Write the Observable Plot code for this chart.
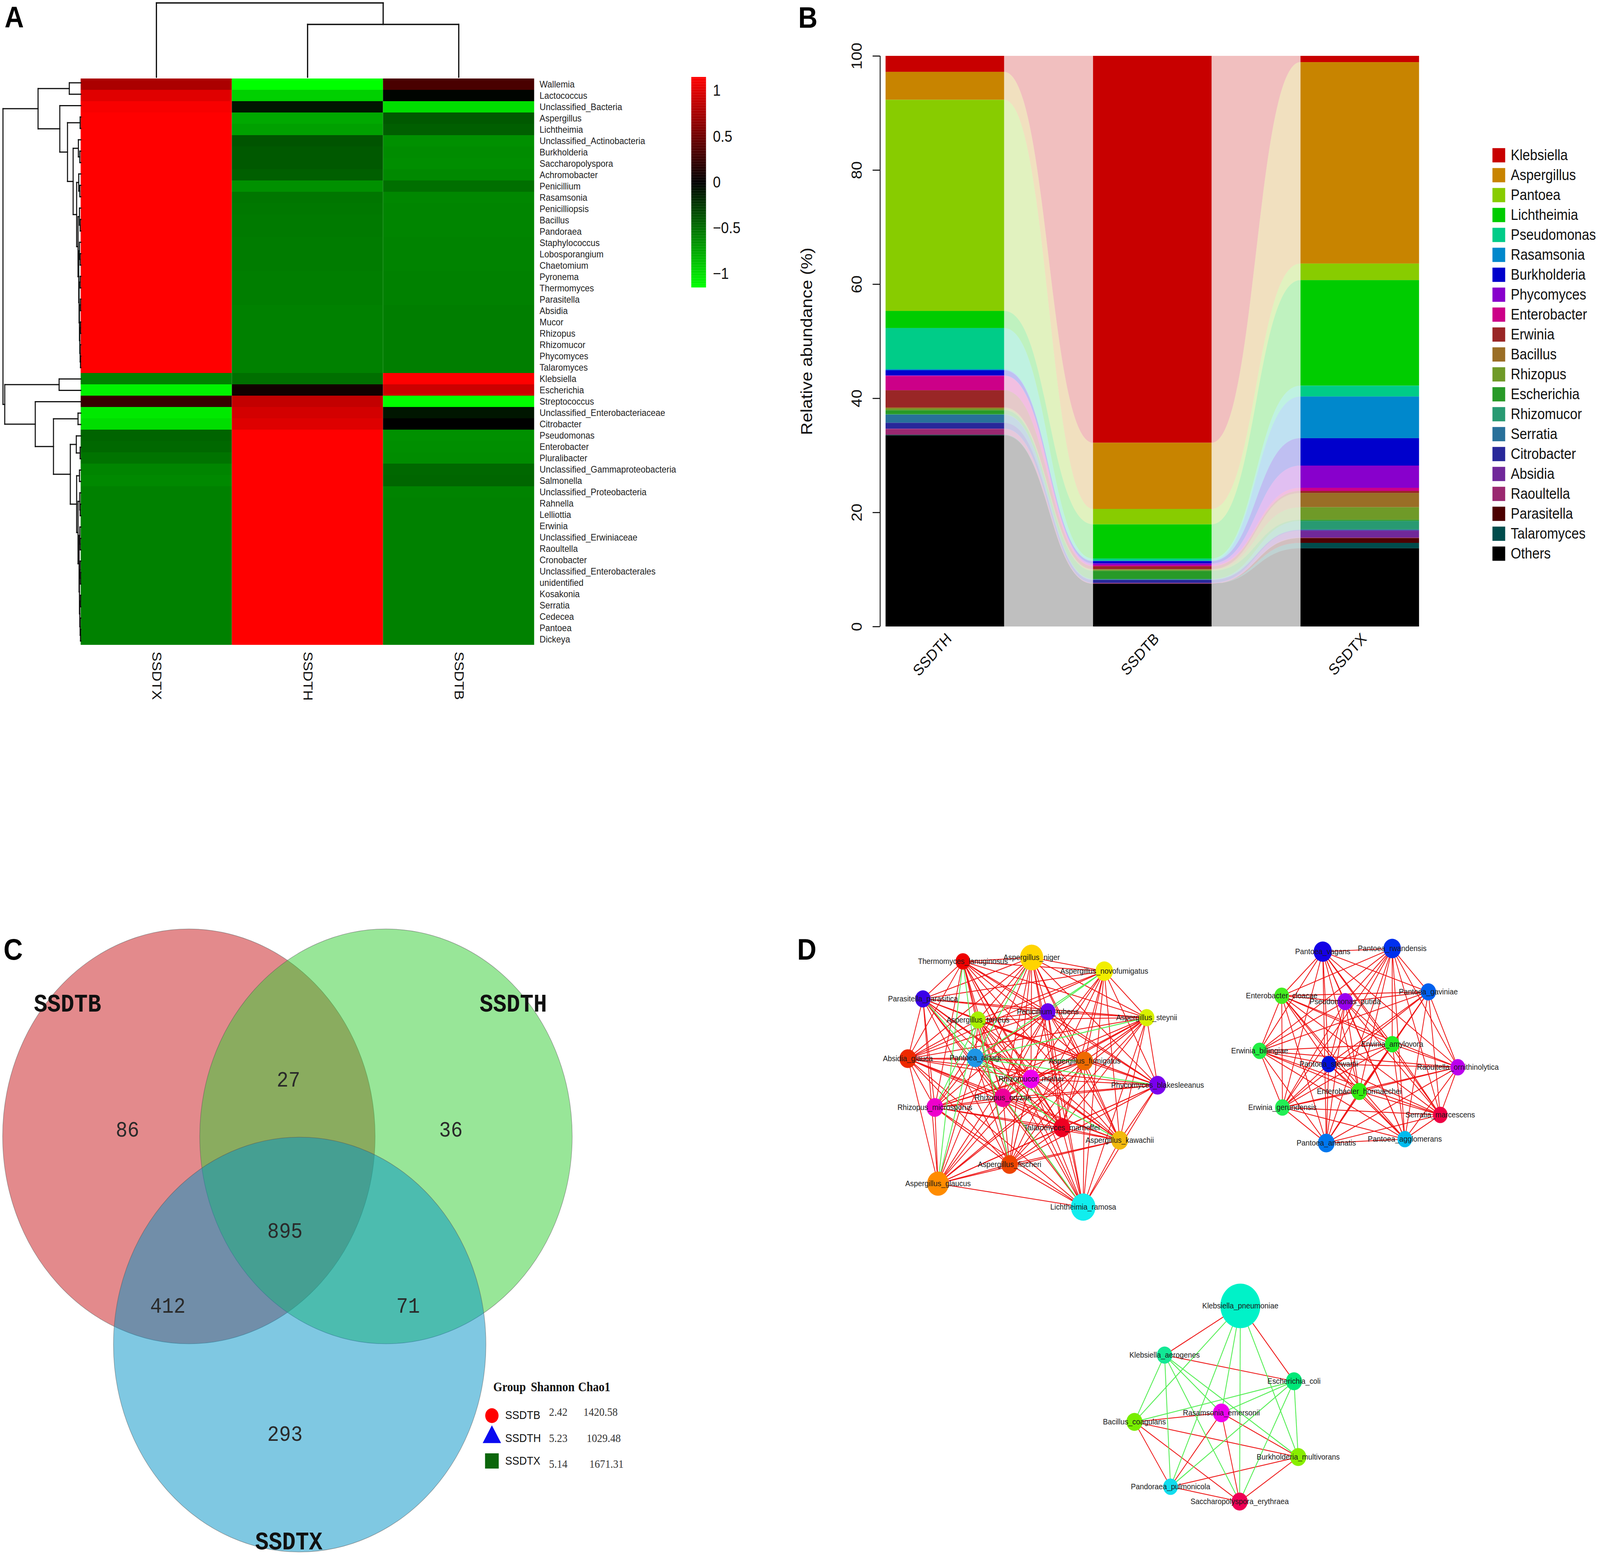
<!DOCTYPE html>
<html><head><meta charset="utf-8">
<script src="https://cdn.jsdelivr.net/npm/d3@7"></script>
<script src="https://cdn.jsdelivr.net/npm/@observablehq/plot@0.6"></script>
<style>
html,body{margin:0;padding:0;background:#fff;overflow:hidden;}
#wrap{position:relative;overflow:hidden;width:4562px;height:3989px;}
#page{position:absolute;left:0;top:0;width:4562px;height:3989px;overflow:hidden;background:#fff;transform-origin:0 0;}
.layer{position:absolute;}
.layer svg{overflow:visible;}
.plabel{position:absolute;font-family:"Liberation Sans",Arial,sans-serif;font-weight:bold;font-size:76px;line-height:1;color:#000;}
</style></head><body><div id="wrap"><div id="page"></div></div>
<script>
// ---------------- DATA ----------------
// Panel A heatmap (row z-scores)
const heatSamples = ["SSDTX","SSDTH","SSDTB"];
const genera = ["Wallemia","Lactococcus","Unclassified_Bacteria","Aspergillus","Lichtheimia","Unclassified_Actinobacteria","Burkholderia","Saccharopolyspora","Achromobacter","Penicillium","Rasamsonia","Penicilliopsis","Bacillus","Pandoraea","Staphylococcus","Lobosporangium","Chaetomium","Pyronema","Thermomyces","Parasitella","Absidia","Mucor","Rhizopus","Rhizomucor","Phycomyces","Talaromyces","Klebsiella","Escherichia","Streptococcus","Unclassified_Enterobacteriaceae","Citrobacter","Pseudomonas","Enterobacter","Pluralibacter","Unclassified_Gammaproteobacteria","Salmonella","Unclassified_Proteobacteria","Rahnella","Lelliottia","Erwinia","Unclassified_Erwiniaceae","Raoultella","Cronobacter","Unclassified_Enterobacterales","unidentified","Kosakonia","Serratia","Cedecea","Pantoea","Dickeya"];
const zSSDTX = [0.77,1.01,1.12,1.15,1.15,1.15,1.15,1.15,1.15,1.15,
 1.15,1.15,1.15,1.15,1.15,1.15,1.15,1.15,1.15,1.15,
 1.15,1.15,1.15,1.15,1.15,1.15,-0.58,-1.10,0.25,-1.05,
 -1.00,-0.45,-0.47,-0.52,-0.60,-0.62,-0.58,-0.58,-0.58,-0.58,
 -0.58,-0.58,-0.58,-0.58,-0.58,-0.58,-0.58,-0.58,-0.58,-0.58];
const zSSDTH = [-1.15,-0.94,-0.10,-0.76,-0.72,-0.38,-0.40,-0.40,-0.43,-0.65,
 -0.53,-0.54,-0.55,-0.55,-0.56,-0.56,-0.56,-0.57,-0.57,-0.57,
 -0.58,-0.58,-0.58,-0.58,-0.58,-0.58,-0.50,0.08,0.88,0.95,
 1.00,1.15,1.15,1.15,1.15,1.15,1.15,1.15,1.15,1.15,
 1.15,1.15,1.15,1.15,1.15,1.15,1.15,1.15,1.15,1.15];
const zSSDTB = [0.33,-0.02,-1.00,-0.40,-0.43,-0.65,-0.63,-0.64,-0.62,-0.50,
 -0.61,-0.60,-0.60,-0.60,-0.59,-0.59,-0.59,-0.58,-0.58,-0.58,
 -0.57,-0.57,-0.57,-0.57,-0.57,-0.57,1.15,0.92,-1.15,-0.10,
 0.00,-0.65,-0.64,-0.63,-0.47,-0.46,-0.59,-0.58,-0.58,-0.58,
 -0.58,-0.58,-0.58,-0.58,-0.58,-0.58,-0.58,-0.58,-0.58,-0.58];
const colorbarTicks = [1, 0.5, 0, -0.5, -1];
// row dendrogram (leaves = row indices, third item = merge height)
const t11_25 = [[11,[12,13,2],4], [[14,[15,16,2],4], [[17,18,2], [[19,20,1], [[21,22,1], [23,[24,25,1],2], 3], 4], 5], 6], 8];
const tTop = [[0,1,33], [2, [[3,4,2], [[5,[6,7,3],7], [[8,[9,10,3],6], t11_25, 12], 22], 38], 60], 122];
const t36_49 = [[36,[37,38,2],3], [[39,[40,41,2],3], [[42,[43,44,1],2], [[45,46,1],[47,[48,49,1],2],3], 4], 5], 8];
const tBot = [[26,27,62], [28, [[29,30,8], [[31,[32,33,2],13], [[34,35,4], t36_49, 12], 30], 78], 130], 217];
const rowTree = [tTop, tBot, 222];
const colTree = [0, [1, 2, 135], 190];

// Panel B relative abundance
const samplesB = ["SSDTH","SSDTB","SSDTX"];
const taxa = ["Klebsiella","Aspergillus","Pantoea","Lichtheimia","Pseudomonas","Rasamsonia","Burkholderia","Phycomyces","Enterobacter","Erwinia","Bacillus","Rhizopus","Escherichia","Rhizomucor","Serratia","Citrobacter","Absidia","Raoultella","Parasitella","Talaromyces","Others"];
const taxaColors = ["#C80000","#C88400","#88CC00","#00CC00","#00CC88","#0088CC","#0000CC","#8800CC","#CC0088","#992626","#9A6E26","#6F9A28","#289A28","#289A72","#28709A","#28289A","#70289A","#9A2870","#4C0000","#004C4C","#000000"];
const abundSSDTH = [2.8,4.9,37.0,3.0,7.2,0.2,0.9,0.1,2.5,3.0,0.2,0.3,0.7,0.1,1.4,1.0,0.1,1.0,0.0,0.1,33.5];
const abundSSDTB = [67.8,11.6,2.7,6.0,0.35,0.1,0.4,0.3,0.2,0.5,0.1,0.2,1.4,0.1,0.1,0.5,0.05,0.1,0.0,0.0,7.5];
const abundSSDTX = [1.1,35.3,2.9,18.5,1.9,7.3,4.8,3.9,0.55,0.35,2.5,2.2,0.2,1.5,0.1,0.1,1.2,0.1,0.85,0.95,13.7];
const yTicksB = [0,20,40,60,80,100];

// Panel C Venn
const vennSets = ["SSDTB","SSDTH","SSDTX"];
const vennColors = ["#C71519","#31CD31","#0091C5"];
const vennRegions = ["SSDTB only","SSDTB∩SSDTH","SSDTH only","all","SSDTB∩SSDTX","SSDTH∩SSDTX","SSDTX only"];
const vennCounts = [86,27,36,895,412,71,293];
const alphaGroups = ["SSDTB","SSDTH","SSDTX"];
const alphaShannon = ["2.42","5.23","5.14"];
const alphaChao1 = ["1420.58","1029.48","1671.31"];
const alphaSymbols = ["circle","triangle","square"];
const alphaColors = ["#FF0000","#0A0AF0","#0B660B"];

// Panel D networks
const net1Names = ["Thermomyces_lanuginosus","Aspergillus_niger","Aspergillus_novofumigatus","Parasitella_parasitica","Penicillium_rubens","Aspergillus_steynii","Aspergillus_terreus","Absidia_glauca","Pantoea_alhagi","Aspergillus_fumigatus","Rhizomucor_miehei","Phycomyces_blakesleeanus","Rhizopus_oryzae","Rhizopus_microsporus","Talaromyces_marneffei","Aspergillus_kawachii","Aspergillus_fischeri","Aspergillus_glaucus","Lichtheimia_ramosa"];
const net1Colors = ["#EE0000","#FFD400","#F2EE00","#3A00E8","#6A00EE","#D8F000","#A8F000","#EE2A00","#1E96E6","#EE6A00","#EE00EE","#7A00EE","#EE0099","#EE00CC","#EE0022","#F2B90C","#EE4400","#FF8C00","#11EEEE"];
const net1Red = [[1,2,3,4,5,6,7,9,10,11,12,13,14,15,16,18],[2,3,4,5,6,7,9,10,11,12,13,14,15,16,17,18],[3,5,6,7,9,10,11,12,14,15,16,18],[4,5,6,7,9,10,11,12,13,14,15,16,17,18],[5,6,7,8,9,10,11,12,13,14,15,16,17,18],[6,7,9,10,11,12,13,14,15,16,17,18],[7,8,9,10,11,12,14,15,18],[8,9,10,11,12,13,14,15,16,17,18],[10,12,13,16,17],[10,11,12,13,14,15,16,17,18],[11,12,13,14,15,16,17,18],[12,13,14,15,16,17,18],[13,14,15,16,17,18],[14,15,16,17,18],[15,16,17,18],[16,17,18],[17,18],[18],[]];
const net1Green = [[0,8],[0,17],[1,8],[2,4],[2,8],[3,8],[5,8],[6,13],[6,16],[6,17],[8,9],[8,11],[8,14],[8,15],[8,18]];
const net2Names = ["Pantoea_vagans","Pantoea_rwandensis","Enterobacter_cloacae","Pseudomonas_putida","Pantoea_gaviniae","Erwinia_billingiae","Erwinia_amylovora","Pantoea_stewartii","Raoultella_ornithinolytica","Enterobacter_hormaechei","Erwinia_gerundensis","Serratia_marcescens","Pantoea_ananatis","Pantoea_agglomerans"];
const net2Colors = ["#1500E6","#0030EE","#44EE22","#9900EE","#0060EE","#22EE44","#22EE22","#0010DD","#BB00EE","#33EE11","#22EE55","#EE0044","#0077EE","#00BBEE"];
const net2Red = [[1,2,3,4,5,6,7,8,9,10,11,12,13],[2,3,4,5,6,7,8,9,10,11,12,13],[3,4,5,6,7,8,9,10,11,12,13],[4,5,6,7,9,10,11,12,13],[5,6,7,8,9,10,11,12,13],[6,7,8,9,10,11,12,13],[7,8,9,10,11,12,13],[8,9,10,11,12,13],[9,10,11,12,13],[10,11,12,13],[11,12,13],[12,13],[13],[]];
const net3Names = ["Klebsiella_pneumoniae","Klebsiella_aerogenes","Escherichia_coli","Rasamsonia_emersonii","Bacillus_coagulans","Burkholderia_multivorans","Pandoraea_pulmonicola","Saccharopolyspora_erythraea"];
const net3Colors = ["#00F2C8","#12E895","#00E878","#EE00EE","#77EE00","#88EE00","#11DDEE","#EE0055"];
const net3Red = [[0,1],[0,2],[1,2],[3,4],[4,5],[4,6],[4,7],[3,6],[3,7],[3,5],[5,6],[5,7],[6,7]];
const net3Green = [[0,4],[0,6],[0,3],[0,7],[0,5],[1,4],[1,6],[1,7],[1,5],[1,3],[2,4],[2,3],[2,6],[2,7],[2,5]];

// ---------------- LAYOUT (page pixel positions, not data) ----------------
const vennLayout = {cx:[538,1100,854], cy:[2909,2909,3442], r:531,
  countX:[363,822,1285,812,478,1163,812], countY:[2892,2764,2892,3151,3343,3343,3671],
  labelX:[96,1367,727], labelY:[2569,2569,3946]};
const net1Layout = {x:[2745,2941,3148,2631,2987,3269,2788,2588,2780,3092,2939,3300,2859,2665,3027,3192,2878,2674,3088],
  y:[2461,2451,2486,2557,2590,2605,2611,2710,2708,2716,2762,2778,2810,2835,2887,2919,2981,3030,3090],
  r:[21,33,25,22,22,22,22,24,24,24,24,24,24,24,24,24,24,31,35]};
const net2Layout = {x:[3771,3969,3654,3835,4072,3591,3969,3788,4156,3875,3656,4106,3781,4005],
  y:[2436,2428,2549,2564,2539,2690,2673,2724,2732,2794,2835,2854,2926,2916],
  r:[26,25,21,22,22,21,21,21,21,22,21,21,24,21]};
const net3Layout = {x:[3536,3320,3689,3482,3234,3701,3337,3534],
  y:[3343,3469,3536,3617,3640,3730,3806,3844],
  r:[57,22,23,24,23,23,21,23]};

// ---------------- HELPERS ----------------
const page = document.getElementById("page");
const wrap = document.getElementById("wrap");
const FONT = "Liberation Sans, Arial, sans-serif";
const baseStyle = {background: "transparent", overflow: "visible", fontFamily: FONT};
function place(el, left, top) {
  const d = document.createElement("div");
  d.className = "layer"; d.style.left = left + "px"; d.style.top = top + "px";
  d.appendChild(el); page.appendChild(d);
}
function label(t, left, top) {
  const d = document.createElement("div");
  d.className = "plabel"; d.textContent = t; d.style.left = left + "px"; d.style.top = top + "px";
  page.appendChild(d);
}
function dendroLinks(tree, leafPos) {
  const out = [];
  (function walk(n) {
    if (typeof n === "number") return {p: leafPos(n), h: 0};
    const A = walk(n[0]), B = walk(n[1]), h = n[2];
    out.push({p1: A.p, h1: A.h, p2: A.p, h2: h});
    out.push({p1: B.p, h1: B.h, p2: B.p, h2: h});
    out.push({p1: A.p, h1: h, p2: B.p, h2: h});
    return {p: (A.p + B.p) / 2, h};
  })(tree);
  return out;
}
const heatColor = {type: "linear", domain: [-1.15, 1.15],
  interpolate: d3.piecewise(d3.interpolateRgb, ["#00FF00", "#000000", "#FF0000"])};

// ---------------- PANEL A ----------------
const zCols = [zSSDTX, zSSDTH, zSSDTB];
const heatCells = genera.flatMap((g, r) => heatSamples.map((s, c) => ({genus: g, sample: s, value: zCols[c][r]})));
place(Plot.plot({
  width: 2250, height: 1900, marginLeft: 230, marginRight: 727, marginTop: 197, marginBottom: 245,
  style: baseStyle,
  x: {domain: heatSamples, padding: 0},
  y: {domain: genera, padding: 0},
  color: heatColor,
  marks: [
    Plot.cell(heatCells, {x: "sample", y: "genus", fill: "value", inset: 0}),
    Plot.axisY({anchor: "right", tickSize: 0, tickPadding: 15, fontSize: 24.5, fill: "#222", label: null}),
    Plot.axisX({anchor: "bottom", tickSize: 0, tickPadding: 13, tickRotate: 90, fontSize: 37, fill: "#111", label: null})
  ]
}), 0, 0);

const rowLinks = dendroLinks(rowTree, i => i + 0.5);
place(Plot.plot({
  width: 240, height: 1900, margin: 0, style: baseStyle,
  x: {domain: [0, 222], range: [230, 8], axis: null},
  y: {domain: [0, genera.length], range: [197, 1655], axis: null},
  marks: [Plot.link(rowLinks, {x1: "h1", y1: "p1", x2: "h2", y2: "p2", stroke: "#111", strokeWidth: 3, strokeLinecap: "square"})]
}), 0, 0);

const colLinks = dendroLinks(colTree, i => i + 0.5);
place(Plot.plot({
  width: 1600, height: 210, margin: 0, style: baseStyle,
  x: {domain: [0, heatSamples.length], range: [230, 1523], axis: null},
  y: {domain: [0, 190], range: [197, 7], axis: null},
  marks: [Plot.link(colLinks, {x1: "p1", y1: "h1", x2: "p2", y2: "h2", stroke: "#111", strokeWidth: 3.5, strokeLinecap: "square"})]
}), 0, 0);

const cbStops = d3.range(-1.15, 1.15, 0.01);
place(Plot.plot({
  width: 200, height: 650, margin: 0, style: baseStyle,
  x: {domain: [0, 1], range: [21, 63], axis: null},
  y: {domain: [-1.15, 1.15], range: [586, 47], axis: null},
  color: heatColor,
  marks: [
    Plot.rect(cbStops, {x1: 0, x2: 1, y1: d => d, y2: d => Math.min(1.15, d + 0.011), fill: d => d + 0.005}),
    Plot.text(colorbarTicks, {x: 1, y: d => d, text: d => d < 0 ? "\u2212" + Math.abs(d) : String(d), dx: 19, textAnchor: "start", fontSize: 40, fill: "#111"})
  ]
}), 1950, 150);

// ---------------- PANEL B ----------------
const abundBy = [abundSSDTH, abundSSDTB, abundSSDTX];
const stacks = abundBy.map(vals => {
  let acc = 0; const out = {};
  for (let k = taxa.length - 1; k >= 0; k--) { out[taxa[k]] = [acc, acc + vals[k]]; acc += vals[k]; }
  return out;
});
const barHalf = 2 / 7;           // bar width relative to bar spacing
const axisOff = barHalf + 0.027; // y axis sits just left of first bar
const barSegs = samplesB.flatMap((s, i) => taxa.map(t => ({i, taxon: t, y1: stacks[i][t][0], y2: stacks[i][t][1]})));
const bands = [];
for (let g = 0; g < samplesB.length - 1; g++) {
  for (const t of taxa) {
    const key = t + "_" + g;
    bands.push({key, taxon: t, x: g + barHalf, y1: stacks[g][t][0], y2: stacks[g][t][1]});
    bands.push({key, taxon: t, x: g + 1 - barHalf, y1: stacks[g + 1][t][0], y2: stacks[g + 1][t][1]});
  }
}
place(Plot.plot({
  width: 1950, height: 1800, marginLeft: 259, marginRight: 27.2, marginTop: 143, marginBottom: 196,
  style: baseStyle,
  x: {domain: [-axisOff, 2.5], axis: null},
  y: {domain: [0, 100]},
  color: {domain: taxa, range: taxaColors},
  marks: [
    Plot.areaY(bands, {x: "x", y1: "y1", y2: "y2", z: "key", fill: "taxon", fillOpacity: 0.25, curve: "bump-x"}),
    Plot.rect(barSegs, {x1: d => d.i - barHalf, x2: d => d.i + barHalf, y1: "y1", y2: "y2", fill: "taxon"}),
    Plot.ruleX([-axisOff], {y1: 0, y2: 100, stroke: "#111", strokeWidth: 2.5}),
    Plot.axisY({anchor: "left", ticks: yTicksB, tickSize: 21, tickFormat: () => "", label: null, strokeWidth: 2.5}),
    Plot.text(yTicksB, {x: -axisOff, y: d => d, text: d => String(d), rotate: -90, dx: -66, fontSize: 41, fill: "#111"}),
    Plot.text(["Relative abundance (%)"], {x: -axisOff, y: 50, text: d => d, rotate: -90, dx: -208, fontSize: 45, fill: "#111"}),
    Plot.text(samplesB, {x: (d, i) => i, y: 0, text: d => d, rotate: -45, textAnchor: "end", dx: 12, dy: 24, fontSize: 40, fill: "#111"})
  ]
}), 2250, 0);

place(Plot.plot({
  width: 340, height: 1150, margin: 0, style: baseStyle,
  x: {domain: [0, 1], range: [51, 300], axis: null},
  y: {type: "point", domain: taxa, range: [64, 1090], padding: 0, axis: null},
  color: {domain: taxa, range: taxaColors},
  marks: [
    Plot.dot(taxa, {x: 0, y: d => d, symbol: "square", r: 20.5, fill: d => d}),
    Plot.text(taxa, {x: 0, y: d => d, text: d => d, dx: 34, textAnchor: "start", fontSize: 38, fill: "#111"})
  ]
}), 4222, 330);

// ---------------- PANEL C ----------------
const vennCircles = vennSets.map((s, i) => ({set: s, color: vennColors[i], x: vennLayout.cx[i], y: vennLayout.cy[i]}));
const vennText = vennCounts.map((c, i) => ({region: vennRegions[i], count: c, x: vennLayout.countX[i], y: vennLayout.countY[i]}));
const vennLabels = vennSets.map((s, i) => ({set: s, x: vennLayout.labelX[i], y: vennLayout.labelY[i]}));
const alphaRows = alphaGroups.map((g, i) => ({g, sh: alphaShannon[i], ch: alphaChao1[i], sym: alphaSymbols[i], col: alphaColors[i], i}));
const rowY = [3623, 3682, 3740], numY = [3615, 3682, 3748], chaoX = [1663, 1672, 1680], symR = [19, 19.5, 22], symY = [3624, 3679, 3740];
const MONO = "Liberation Mono, Courier New, monospace", SERIF = "Liberation Serif, Times New Roman, serif";
place(Plot.plot({
  width: 2250, height: 1689, margin: 0, style: baseStyle,
  x: {domain: [0, 2250], range: [0, 2250], axis: null},
  y: {domain: [2300, 3989], range: [0, 1689], axis: null},
  color: {type: "identity"},
  r: {type: "identity"},
  symbol: {type: "identity"},
  marks: [
    Plot.dot(vennCircles, {x: "x", y: "y", r: vennLayout.r, fill: "color", fillOpacity: 0.5, stroke: "#555", strokeOpacity: 0.55, strokeWidth: 1.5}),
    Plot.text(vennText, {x: "x", y: "y", text: d => String(d.count), fontFamily: MONO, fontSize: 56, fill: "#2a2a2a"}),
    Plot.text(vennLabels, {x: "x", y: "y", text: "set", textAnchor: "start", fontFamily: MONO, fontWeight: "bold", fontSize: 64, fill: "#111"}),
    Plot.text(["Group", "Shannon", "Chao1"], {x: (d, i) => [1406, 1513, 1648][i], y: 3551, text: d => d, textAnchor: "start", fontFamily: SERIF, fontWeight: "bold", fontSize: 33, fill: "#111"}),
    Plot.dot(alphaRows, {x: 1402, y: d => symY[d.i], symbol: "sym", r: d => symR[d.i], fill: "col"}),
    Plot.text(alphaRows, {x: 1440, y: d => rowY[d.i], text: "g", textAnchor: "start", fontSize: 30, fill: "#111"}),
    Plot.text(alphaRows, {x: 1565, y: d => numY[d.i], text: "sh", textAnchor: "start", fontFamily: SERIF, fontSize: 30, fill: "#333"}),
    Plot.text(alphaRows, {x: d => chaoX[d.i], y: d => numY[d.i], text: "ch", textAnchor: "start", fontFamily: SERIF, fontSize: 30, fill: "#333"})
  ]
}), 0, 2300);

// ---------------- PANEL D ----------------
function netNodes(names, colors, L) { return names.map((n, i) => ({name: n, color: colors[i], x: L.x[i], y: L.y[i], r: L.r[i]})); }
function netEdges(pairs, nodes, type) { return pairs.map(([a, b]) => ({type, x1: nodes[a].x, y1: nodes[a].y, x2: nodes[b].x, y2: nodes[b].y})); }
function adjPairs(adj) { return adj.flatMap((nb, i) => nb.map(j => [i, j])); }
const n1 = netNodes(net1Names, net1Colors, net1Layout);
const n2 = netNodes(net2Names, net2Colors, net2Layout);
const n3 = netNodes(net3Names, net3Colors, net3Layout);
const redEdges = [...netEdges(adjPairs(net1Red), n1, "pos"), ...netEdges(adjPairs(net2Red), n2, "pos"), ...netEdges(net3Red, n3, "pos")];
const greenEdges = [...netEdges(net1Green, n1, "neg"), ...netEdges(net3Green, n3, "neg")];
const allNodes = [...n1, ...n2, ...n3];
place(Plot.plot({
  width: 2312, height: 1689, margin: 0, style: baseStyle,
  x: {domain: [2250, 4562], range: [0, 2312], axis: null},
  y: {domain: [2300, 3989], range: [0, 1689], axis: null},
  color: {type: "identity"},
  r: {type: "identity"},
  marks: [
    Plot.link(redEdges, {x1: "x1", y1: "y1", x2: "x2", y2: "y2", stroke: "#EE1414", strokeWidth: 2.2}),
    Plot.link(greenEdges, {x1: "x1", y1: "y1", x2: "x2", y2: "y2", stroke: "#55EE55", strokeWidth: 2.4}),
    Plot.dot(allNodes, {x: "x", y: "y", r: "r", fill: "color"}),
    Plot.text(allNodes, {x: "x", y: "y", text: "name", fontSize: 21, fill: "#1a1a1a"})
  ]
}), 2250, 2300);

// panel letters
label("A", 13, 6);
label("B", 2276, 7);
label("C", 10, 2393);
label("D", 2273, 2393);

// fit the 4562x3989 page exactly into the actual viewport
const fx = window.innerWidth / 4562, fy = window.innerHeight / 3989;
if (Math.abs(fx - 1) > 0.002 || Math.abs(fy - 1) > 0.002) {
  page.style.transform = `scale(${fx}, ${fy})`;
  wrap.style.width = window.innerWidth + "px";
  wrap.style.height = window.innerHeight + "px";
}
</script></body></html>
